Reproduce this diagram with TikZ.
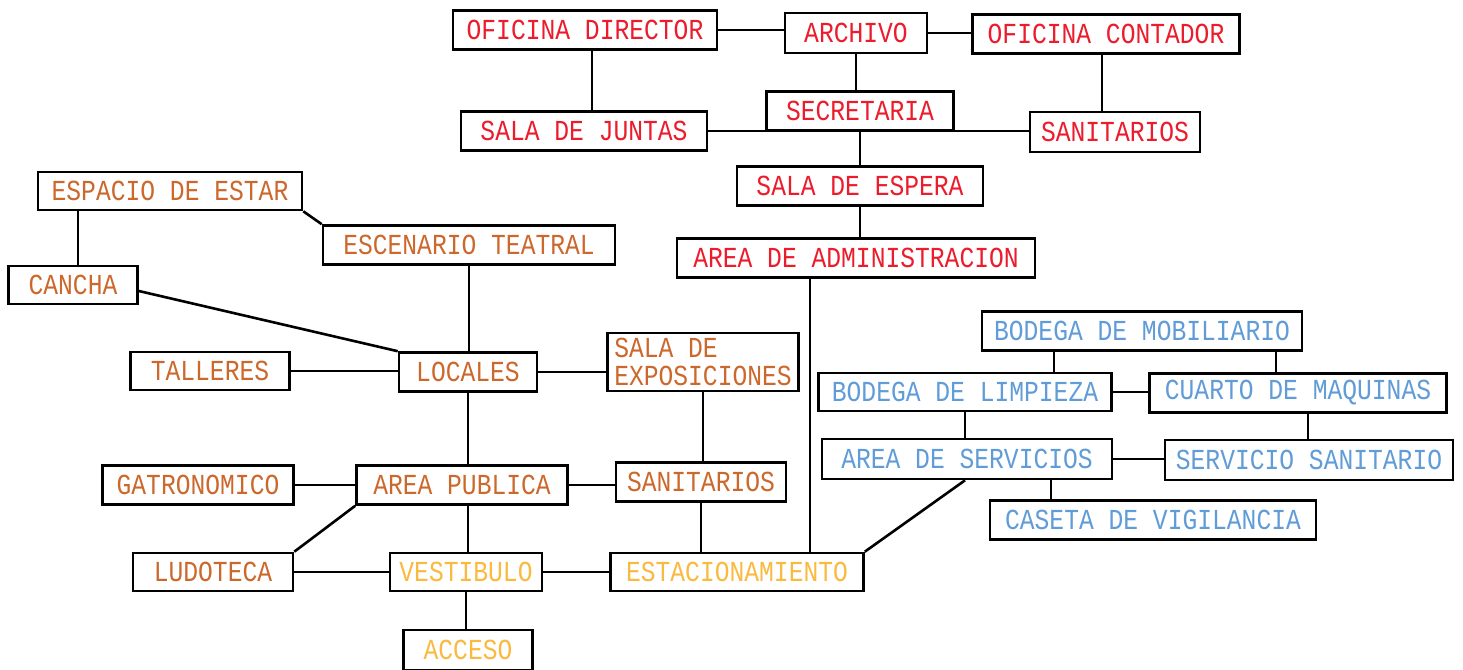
\documentclass[tikz,border=0pt]{standalone}
\usepackage{fontspec}
\newfontfamily\cadfont[FakeStretch=0.85]{Liberation Mono}
\definecolor{rojo}{RGB}{236,28,44}
\definecolor{naranja}{RGB}{204,104,44}
\definecolor{amarillo}{RGB}{250,186,64}
\definecolor{azul}{RGB}{96,156,216}
\begin{document}
\begin{tikzpicture}[x=1pt, y=-1pt,
    caja/.style={rectangle, draw=black, line width=2.6pt, fill=white, inner xsep=3pt,
                 minimum height=39pt, font=\cadfont\fontsize{29}{28}\selectfont},
    admin/.style={caja, text=rojo},
    social/.style={caja, text=naranja},
    llegada/.style={caja, text=amarillo},
    servicio/.style={caja, text=azul},
    liga/.style={line width=2.6pt}
]
\useasboundingbox (0,0) rectangle (1463,669);

% Administracion
\node[admin, minimum width=264pt] (dir) at (585,30) {OFICINA DIRECTOR};
\node[admin, minimum width=142pt, minimum height=40pt] (arch) at (856,33) {ARCHIVO};
\node[admin, minimum width=267pt] (cont) at (1106,34) {OFICINA CONTADOR};
\node[admin, minimum width=246pt] (juntas) at (584,131) {SALA DE JUNTAS};
\node[admin, minimum width=187pt] (secre) at (860,111) {SECRETARIA};
\node[admin, minimum width=170pt, minimum height=40pt] (sanr) at (1115,132) {SANITARIOS};
\node[admin, minimum width=246pt] (espera) at (860,186) {SALA DE ESPERA};
\node[admin, minimum width=358pt] (area) at (856,258) {AREA DE ADMINISTRACION};

% Zona publica
\node[social, minimum width=264pt, minimum height=38pt] (estar) at (170,191) {ESPACIO DE ESTAR};
\node[social, minimum width=292pt] (teatro) at (469,245) {ESCENARIO TEATRAL};
\node[social, minimum width=129pt, minimum height=38pt] (cancha) at (73,285) {CANCHA};
\node[social, minimum width=159pt, minimum height=38pt] (talleres) at (210,371) {TALLERES};
\node[social, minimum width=138pt] (locales) at (468,372) {LOCALES};
\node[social, minimum width=191pt, minimum height=58pt, inner ysep=1pt, align=left] (expo) at (703,362) {SALA DE\\EXPOSICIONES};
\node[social, minimum width=191pt] (gastro) at (198,485) {GATRONOMICO};
\node[social, minimum width=211pt] (publica) at (462,485) {AREA PUBLICA};
\node[social, minimum width=170pt] (sano) at (701,482) {SANITARIOS};
\node[social, minimum width=160pt, minimum height=38pt] (ludo) at (213,572) {LUDOTECA};

% Acceso
\node[llegada, minimum width=152pt, minimum height=38pt] (vesti) at (466,572) {VESTIBULO};
\node[llegada, minimum width=253pt, minimum height=38pt] (estac) at (737,572) {ESTACIONAMIENTO};
\node[llegada, minimum width=129pt, minimum height=40pt] (acceso) at (468,650) {ACCESO};

% Servicios
\node[servicio, minimum width=320pt] (mobil) at (1142,331) {BODEGA DE MOBILIARIO};
\node[servicio, minimum width=293pt, minimum height=38pt] (limp) at (965,392) {BODEGA DE LIMPIEZA};
\node[servicio, minimum width=297pt] (maq) at (1298,393) {CUARTO DE MAQUINAS};
\node[servicio, minimum width=290pt, minimum height=40pt] (serv) at (967,459) {AREA DE SERVICIOS};
\node[servicio, minimum width=288pt, minimum height=40pt] (sansrv) at (1309,460) {SERVICIO SANITARIO};
\node[servicio, minimum width=326pt] (caseta) at (1153,520) {CASETA DE VIGILANCIA};

% Ligas
\draw[liga] (dir.east) -- (dir.east -| arch.west);
\draw[liga] (arch.east) -- (arch.east -| cont.west);
\draw[liga] ([xshift=7pt]dir.south) -- ([xshift=7pt]dir.south |- juntas.north);
\draw[liga] (arch.south) -- (arch.south |- secre.north);
\draw[liga] ([xshift=-4pt]cont.south) -- ([xshift=-4pt]cont.south |- sanr.north);
\draw[liga] (juntas.east) -- (juntas.east -| sanr.west);
\draw[liga] (secre.south) -- (secre.south |- espera.north);
\draw[liga] (espera.south) -- (espera.south |- area.north);
\draw[liga] ([xshift=-46pt]area.south) -- ([xshift=-46pt]area.south |- estac.north);

\draw[liga] ([xshift=-92pt]estar.south) -- ([xshift=-92pt]estar.south |- cancha.north);
\draw[liga] (estar.south east) -- (teatro.north west);
\draw[liga] (teatro.south) -- (teatro.south |- locales.north);
\draw[liga] ([yshift=-6pt]cancha.east) -- (locales.north west);
\draw[liga] (talleres.east) -- (talleres.east -| locales.west);
\draw[liga] (locales.east) -- (locales.east -| expo.west);
\draw[liga] (expo.south) -- (expo.south |- sano.north);
\draw[liga] (locales.south) -- (locales.south |- publica.north);
\draw[liga] (gastro.east) -- (gastro.east -| publica.west);
\draw[liga] (publica.east) -- (publica.east -| sano.west);
\draw[liga] (publica.south west) -- (ludo.north east);
\draw[liga] (locales.south |- publica.south) -- (locales.south |- vesti.north);
\draw[liga] (ludo.east) -- (ludo.east -| vesti.west);
\draw[liga] (vesti.east) -- (vesti.east -| estac.west);
\draw[liga] (vesti.south) -- (vesti.south |- acceso.north);
\draw[liga] (sano.south) -- (sano.south |- estac.north);
\draw[liga] (estac.north east) -- ([xshift=-2pt]serv.south);

\draw[liga] ([xshift=-88pt]mobil.south) -- ([xshift=-88pt]mobil.south |- limp.north);
\draw[liga] ([xshift=134pt]mobil.south) -- ([xshift=134pt]mobil.south |- maq.north);
\draw[liga] (limp.east) -- (limp.east -| maq.west);
\draw[liga] (limp.south) -- (limp.south |- serv.north);
\draw[liga] ([xshift=10pt]maq.south) -- ([xshift=10pt]maq.south |- sansrv.north);
\draw[liga] (serv.east) -- (serv.east -| sansrv.west);
\draw[liga] ([xshift=84pt]serv.south) -- ([xshift=84pt]serv.south |- caseta.north);

\end{tikzpicture}
\end{document}
